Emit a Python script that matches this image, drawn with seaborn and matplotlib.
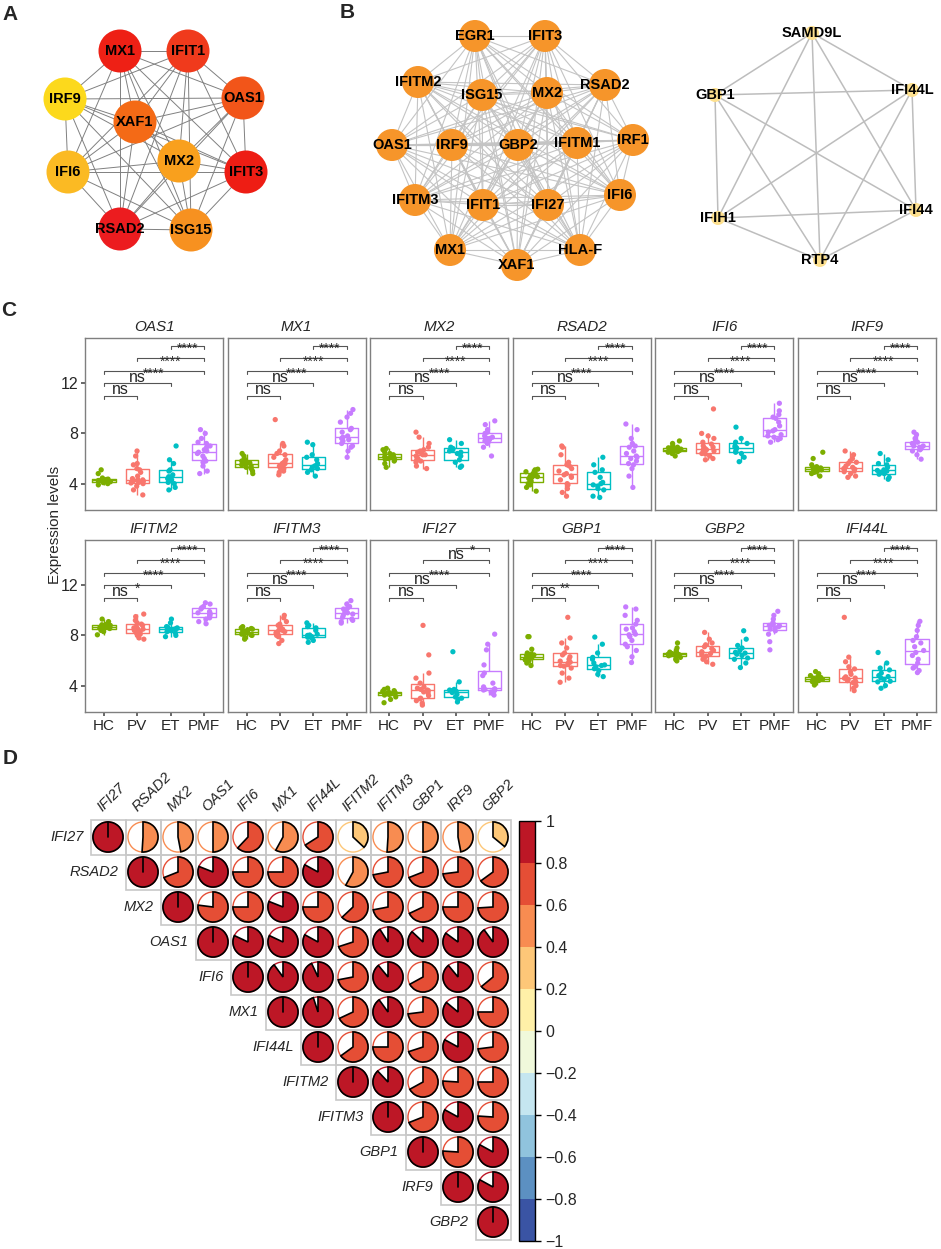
"""
Interferon-signature figure: PPI networks (A, B), expression boxplots (C)
and a pie-style correlation matrix (D).
"""

from itertools import combinations

import numpy as np
import pandas as pd
import matplotlib
matplotlib.use("Agg")
import matplotlib.pyplot as plt
import seaborn as sns
from matplotlib.patches import Circle, Wedge, Rectangle
from matplotlib.colors import ListedColormap, BoundaryNorm
from matplotlib.cm import ScalarMappable

sns.set_theme(style="white")
plt.rcParams["font.family"] = ["Liberation Sans", "DejaVu Sans"]

# ---------------------------------------------------------------------------
# Data
# ---------------------------------------------------------------------------
# Panel A: hub network (layout coordinates + node colours by degree rank)
NET_A_NODES = ["MX1", "IFIT1", "OAS1", "IRF9", "XAF1", "MX2", "IFIT3", "IFI6", "RSAD2", "ISG15"]
NET_A_X = [120, 188, 243, 65, 135, 179, 246, 68, 120, 191]
NET_A_Y = [51, 51, 98, 99, 122, 161, 172, 172, 229, 230]
NET_A_COLORS = ["#EE2015", "#F03A1C", "#F25519", "#FCD91C", "#F46A16",
                "#F9A01D", "#EE1D14", "#FBBA23", "#EC1C1F", "#F79120"]

# Panel B: two modules
NET_B1_NODES = ["EGR1", "IFIT3", "IFITM2", "ISG15", "MX2", "RSAD2", "OAS1", "IRF9", "GBP2",
                "IFITM1", "IRF1", "IFITM3", "IFIT1", "IFI27", "IFI6", "MX1", "XAF1", "HLA-F"]
NET_B1_X = [475, 545, 418, 482, 547, 605, 392, 452, 518, 577, 633, 415, 483, 548, 620, 450, 517, 580]
NET_B1_Y = [36, 36, 82, 95, 93, 85, 145, 145, 145, 143, 140, 200, 205, 205, 195, 250, 265, 250]

NET_B2_NODES = ["SAMD9L", "GBP1", "IFI44L", "IFIH1", "IFI44", "RTP4"]
NET_B2_X = [812, 715, 912, 718, 916, 820]
NET_B2_Y = [33, 95, 90, 218, 210, 260]

# Panel C: expression levels per gene and group
GROUPS = ["HC", "PV", "ET", "PMF"]

OAS1 = {
    "HC": [3.9, 4.0, 4.08, 4.12, 4.15, 4.2, 4.22, 4.25, 4.27, 4.3, 4.33, 4.36, 4.45, 4.8, 5.1],
    "PV": [3.1, 3.5, 3.8, 4.0, 4.05, 4.1, 4.2, 4.25, 4.3, 4.3, 4.4, 4.6, 4.9, 5.1, 5.2, 5.5, 5.6, 6.2, 6.6],
    "ET": [3.5, 3.7, 4.0, 4.1, 4.3, 4.4, 4.5, 4.55, 4.7, 5.0, 5.1, 5.6, 5.9, 7.0],
    "PMF": [4.8, 5.0, 5.4, 5.7, 5.8, 6.0, 6.2, 6.4, 6.5, 6.6, 6.7, 6.9, 7.0, 7.2, 7.3, 7.6, 8.0, 8.3],
}
MX1 = {
    "HC": [4.8, 5.0, 5.2, 5.3, 5.4, 5.5, 5.55, 5.6, 5.65, 5.7, 5.8, 5.9, 6.0, 6.2, 6.4],
    "PV": [4.7, 4.9, 5.0, 5.2, 5.25, 5.4, 5.5, 5.6, 5.6, 5.7, 5.9, 6.1, 6.3, 6.4, 6.6, 7.0, 7.2, 9.1],
    "ET": [4.6, 4.9, 5.1, 5.2, 5.3, 5.4, 5.45, 5.6, 5.9, 6.1, 6.3, 7.1, 7.3],
    "PMF": [6.1, 6.6, 6.9, 7.0, 7.2, 7.4, 7.5, 7.6, 7.7, 7.8, 8.1, 8.3, 8.4, 8.9, 9.3, 9.6, 9.9],
}
MX2 = {
    "HC": [5.3, 5.6, 5.8, 5.9, 5.95, 6.0, 6.1, 6.1, 6.15, 6.2, 6.3, 6.4, 6.5, 6.7, 6.8],
    "PV": [5.2, 5.4, 5.7, 5.8, 5.9, 6.0, 6.2, 6.3, 6.3, 6.4, 6.5, 6.6, 6.7, 6.9, 7.2, 7.7, 8.1],
    "ET": [5.3, 5.4, 5.7, 5.9, 6.2, 6.4, 6.5, 6.6, 6.7, 6.8, 6.9, 7.2, 7.5],
    "PMF": [6.2, 6.9, 7.2, 7.3, 7.4, 7.5, 7.6, 7.6, 7.7, 7.8, 8.0, 8.1, 8.3, 8.7, 9.0],
}
RSAD2 = {
    "HC": [3.4, 3.7, 3.9, 4.0, 4.2, 4.4, 4.5, 4.56, 4.6, 4.7, 4.8, 4.85, 4.95, 5.1, 5.15],
    "PV": [3.0, 3.3, 3.6, 3.9, 4.0, 4.3, 4.5, 4.6, 4.7, 4.8, 5.0, 5.2, 5.4, 5.5, 5.7, 6.3, 6.9, 7.0],
    "ET": [2.9, 3.0, 3.5, 3.6, 3.8, 3.9, 4.0, 4.1, 4.5, 4.9, 5.1, 5.5, 6.1],
    "PMF": [3.7, 4.6, 5.2, 5.5, 5.6, 5.8, 6.0, 6.1, 6.2, 6.4, 6.6, 6.9, 7.0, 7.2, 7.6, 8.3, 8.75],
}
IFI6 = {
    "HC": [6.2, 6.4, 6.5, 6.55, 6.6, 6.65, 6.7, 6.7, 6.75, 6.8, 6.85, 6.9, 7.0, 7.2, 7.4],
    "PV": [5.9, 6.0, 6.2, 6.35, 6.4, 6.5, 6.6, 6.7, 6.7, 6.8, 6.9, 7.0, 7.15, 7.3, 7.6, 7.8, 8.0, 9.95],
    "ET": [5.75, 6.1, 6.4, 6.5, 6.6, 6.8, 6.85, 6.9, 7.0, 7.2, 7.3, 7.6, 8.5],
    "PMF": [7.3, 7.5, 7.6, 7.7, 7.8, 7.9, 8.1, 8.2, 8.3, 8.6, 8.9, 9.2, 9.3, 9.5, 9.8, 10.4],
}
IRF9 = {
    "HC": [4.6, 4.8, 4.9, 4.95, 5.0, 5.1, 5.12, 5.15, 5.2, 5.25, 5.3, 5.35, 5.5, 6.0, 6.5],
    "PV": [4.5, 4.6, 4.8, 4.95, 5.0, 5.1, 5.15, 5.2, 5.3, 5.4, 5.6, 5.7, 5.8, 6.0, 6.3, 6.6],
    "ET": [4.35, 4.5, 4.75, 4.8, 4.9, 5.0, 5.05, 5.1, 5.3, 5.5, 5.6, 5.9, 6.4],
    "PMF": [5.95, 6.3, 6.6, 6.7, 6.8, 6.9, 7.0, 7.0, 7.1, 7.2, 7.3, 7.4, 7.6, 7.9, 8.1],
}
IFITM2 = {
    "HC": [8.05, 8.3, 8.4, 8.45, 8.55, 8.6, 8.65, 8.67, 8.7, 8.75, 8.8, 8.85, 8.9, 9.1, 9.3],
    "PV": [7.7, 7.8, 8.0, 8.1, 8.2, 8.3, 8.4, 8.5, 8.5, 8.6, 8.7, 8.8, 8.9, 9.0, 9.2, 9.5, 9.7],
    "ET": [7.9, 8.0, 8.2, 8.3, 8.4, 8.45, 8.5, 8.55, 8.6, 8.65, 8.7, 9.0, 9.3],
    "PMF": [8.93, 9.1, 9.3, 9.4, 9.5, 9.6, 9.7, 9.75, 9.8, 9.9, 10.1, 10.2, 10.3, 10.5, 10.6],
}
IFITM3 = {
    "HC": [7.7, 7.85, 8.0, 8.05, 8.1, 8.2, 8.25, 8.27, 8.3, 8.4, 8.45, 8.5, 8.55, 8.6, 8.7],
    "PV": [7.35, 7.6, 7.9, 8.0, 8.1, 8.2, 8.3, 8.4, 8.4, 8.5, 8.6, 8.7, 8.8, 8.9, 9.1, 9.4, 9.6],
    "ET": [7.45, 7.6, 7.8, 7.85, 7.9, 8.0, 8.03, 8.1, 8.4, 8.6, 8.7, 8.8, 9.0],
    "PMF": [8.98, 9.1, 9.2, 9.3, 9.45, 9.6, 9.7, 9.8, 9.85, 9.95, 10.1, 10.2, 10.3, 10.5, 10.77],
}
IFI27 = {
    "HC": [2.64, 2.9, 3.1, 3.25, 3.3, 3.35, 3.38, 3.4, 3.42, 3.45, 3.5, 3.55, 3.6, 3.7, 3.8],
    "PV": [2.45, 2.6, 2.8, 2.95, 3.0, 3.2, 3.4, 3.5, 3.6, 3.65, 3.7, 3.8, 3.9, 4.2, 4.6, 5.0, 6.45, 8.8],
    "ET": [2.7, 2.9, 3.0, 3.1, 3.3, 3.45, 3.52, 3.55, 3.6, 3.65, 3.7, 4.3, 6.7],
    "PMF": [3.25, 3.4, 3.5, 3.6, 3.65, 3.7, 3.7, 3.75, 3.9, 4.2, 4.8, 5.0, 5.65, 6.85, 7.3, 8.1],
}
GBP1 = {
    "HC": [5.6, 5.8, 5.95, 6.05, 6.1, 6.2, 6.25, 6.27, 6.3, 6.4, 6.45, 6.5, 6.6, 6.9, 7.9, 7.9],
    "PV": [4.27, 4.6, 5.0, 5.4, 5.55, 5.6, 5.7, 5.8, 5.87, 5.95, 6.1, 6.3, 6.45, 6.6, 7.0, 7.4, 7.8, 9.44],
    "ET": [4.72, 4.9, 5.2, 5.35, 5.5, 5.6, 5.65, 5.8, 6.1, 6.25, 6.6, 7.3, 7.87],
    "PMF": [5.84, 6.3, 6.8, 7.1, 7.3, 7.6, 7.9, 8.05, 8.1, 8.3, 8.5, 8.6, 8.9, 9.2, 9.6, 10.1, 10.27],
}
GBP2 = {
    "HC": [5.97, 6.1, 6.25, 6.32, 6.38, 6.42, 6.46, 6.48, 6.5, 6.55, 6.6, 6.67, 6.75, 7.0, 7.4],
    "PV": [5.7, 5.9, 6.1, 6.25, 6.35, 6.45, 6.55, 6.64, 6.7, 6.8, 6.95, 7.1, 7.25, 7.4, 7.7, 8.24],
    "ET": [5.44, 5.8, 6.1, 6.2, 6.4, 6.5, 6.59, 6.65, 6.8, 7.0, 7.2, 7.7, 8.37],
    "PMF": [6.85, 7.5, 8.1, 8.37, 8.5, 8.6, 8.7, 8.77, 8.8, 8.85, 8.9, 9.0, 9.3, 9.6, 9.92],
}
IFI44L = {
    "HC": [4.05, 4.2, 4.3, 4.32, 4.4, 4.45, 4.5, 4.53, 4.55, 4.6, 4.65, 4.72, 4.8, 4.95, 5.12],
    "PV": [3.6, 3.8, 4.0, 4.24, 4.3, 4.4, 4.5, 4.59, 4.6, 4.7, 4.9, 5.1, 5.33, 5.5, 5.9, 6.27, 9.44],
    "ET": [3.79, 4.0, 4.3, 4.35, 4.5, 4.6, 4.72, 4.8, 5.0, 5.25, 5.4, 5.8, 6.64],
    "PMF": [5.04, 5.2, 5.4, 5.5, 5.8, 6.1, 6.4, 6.64, 6.8, 7.1, 7.4, 7.6, 7.9, 8.4, 8.8, 9.12],
}

GENES_C = ["OAS1", "MX1", "MX2", "RSAD2", "IFI6", "IRF9",
           "IFITM2", "IFITM3", "IFI27", "GBP1", "GBP2", "IFI44L"]
EXPR = [OAS1, MX1, MX2, RSAD2, IFI6, IRF9, IFITM2, IFITM3, IFI27, GBP1, GBP2, IFI44L]

# significance for HC-PV, HC-ET, HC-PMF, PV-PMF, ET-PMF
PAIRS = [(0, 1), (0, 2), (0, 3), (1, 3), (2, 3)]
SIG = {
    "OAS1": ["ns", "ns", "****", "****", "****"],
    "MX1": ["ns", "ns", "****", "****", "****"],
    "MX2": ["ns", "ns", "****", "****", "****"],
    "RSAD2": ["ns", "ns", "****", "****", "****"],
    "IFI6": ["ns", "ns", "****", "****", "****"],
    "IRF9": ["ns", "ns", "****", "****", "****"],
    "IFITM2": ["ns", "*", "****", "****", "****"],
    "IFITM3": ["ns", "ns", "****", "****", "****"],
    "IFI27": ["ns", "ns", "****", "ns", "*"],
    "GBP1": ["ns", "**", "****", "****", "****"],
    "GBP2": ["ns", "ns", "****", "****", "****"],
    "IFI44L": ["ns", "ns", "****", "****", "****"],
}
BRACKET_Y = [11, 12, 13, 14, 15]

# Panel D: Spearman correlations (upper triangle, row by row)
GENES_D = ["IFI27", "RSAD2", "MX2", "OAS1", "IFI6", "MX1",
           "IFI44L", "IFITM2", "IFITM3", "GBP1", "IRF9", "GBP2"]
CORR_UPPER = [
    [0.51, 0.47, 0.50, 0.62, 0.58, 0.66, 0.37, 0.51, 0.50, 0.47, 0.36],
    [0.69, 0.81, 0.75, 0.75, 0.83, 0.58, 0.72, 0.69, 0.73, 0.65],
    [0.77, 0.75, 0.81, 0.75, 0.63, 0.72, 0.68, 0.75, 0.74],
    [0.82, 0.82, 0.83, 0.70, 0.91, 0.87, 0.85, 0.90],
    [0.90, 0.93, 0.72, 0.89, 0.67, 0.89, 0.64],
    [0.95, 0.68, 0.90, 0.73, 0.86, 0.75],
    [0.65, 0.75, 0.70, 0.83, 0.73],
    [0.88, 0.67, 0.76, 0.75],
    [0.69, 0.83, 0.76],
    [0.76, 0.83],
    [0.83],
]

PALETTE = {"HC": "#7CAE00", "PV": "#F8766D", "ET": "#00BFC4", "PMF": "#C77CFF"}

# ---------------------------------------------------------------------------
# Figure
# ---------------------------------------------------------------------------
W, H = 941, 1249
fig = plt.figure(figsize=(W / 100, H / 100), dpi=100)
np.random.seed(7)


def px_axes(x0, y0, w, h):
    return fig.add_axes([x0 / W, 1 - (y0 + h) / H, w / W, h / H])


def draw_network(ax, names, xs, ys, colors, radius, edge_color, edge_lw, fsize):
    for a, b in combinations(range(len(names)), 2):
        ax.plot([xs[a], xs[b]], [ys[a], ys[b]], color=edge_color, lw=edge_lw, zorder=1)
    for name, x, y, c in zip(names, xs, ys, colors):
        ax.add_patch(Circle((x, y), radius, facecolor=c, edgecolor="none", zorder=2))
        ax.text(x, y, name, ha="center", va="center", fontsize=fsize,
                fontweight="bold", color="black", zorder=3)


# ---- Panels A and B --------------------------------------------------------
ax_net = px_axes(0, 0, W, 300)
ax_net.set_xlim(0, W)
ax_net.set_ylim(300, 0)
ax_net.axis("off")

draw_network(ax_net, NET_A_NODES, NET_A_X, NET_A_Y, NET_A_COLORS,
             21.5, "#808080", 0.7, 10.5)
draw_network(ax_net, NET_B1_NODES, NET_B1_X, NET_B1_Y, ["#F6952A"] * len(NET_B1_NODES),
             16, "#C4C4C4", 0.8, 10.5)
draw_network(ax_net, NET_B2_NODES, NET_B2_X, NET_B2_Y, ["#FDE08F"] * len(NET_B2_NODES),
             7, "#BDBDBD", 1.1, 10.5)

# ---- Panel C ---------------------------------------------------------------
for k, (gene, expr) in enumerate(zip(GENES_C, EXPR)):
    r, c = divmod(k, 6)
    ax = px_axes(85 + 142.6 * c, [338, 540][r], 138, 172)
    df = pd.DataFrame([(g, v) for g in GROUPS for v in expr[g]], columns=["group", "value"])

    sns.boxplot(data=df, x="group", y="value", hue="group", order=GROUPS,
                hue_order=GROUPS, palette=PALETTE, fill=False, width=0.7,
                linewidth=1, showfliers=False, showcaps=False, legend=False, ax=ax)
    sns.stripplot(data=df, x="group", y="value", hue="group", order=GROUPS,
                  hue_order=GROUPS, palette=PALETTE, jitter=0.2, size=3.8,
                  legend=False, ax=ax, zorder=3)

    for (a, b), yb, lab in zip(PAIRS, BRACKET_Y, SIG[gene]):
        ax.plot([a, a, b, b], [yb - 0.25, yb, yb, yb - 0.25], color="#555555", lw=0.8)
        if lab == "ns":
            ax.text((a + b) / 2, yb + 0.12, lab, ha="center", va="baseline", fontsize=11.5)
        else:
            ax.text((a + b) / 2, yb - 0.28, lab, ha="center", va="center", fontsize=10)

    ax.set_xlim(-0.57, 3.57)
    ax.set_ylim(1.9, 15.6)
    ax.set_yticks([4, 8, 12])
    ax.set_xlabel("")
    ax.set_ylabel("")
    ax.set_title(gene, style="italic", fontsize=11, pad=5)
    for s in ax.spines.values():
        s.set_color("#7f7f7f")
        s.set_linewidth(1)
    ax.tick_params(axis="both", length=3, color="#555555", labelsize=11.5, pad=2,
                   left=(c == 0), bottom=(r == 1))
    ax.tick_params(axis="x", labelsize=11)
    if c > 0:
        ax.set_yticklabels([])
    if r == 0:
        ax.set_xticklabels([])

fig.text(55 / W, 1 - 525 / H, "Expression levels", rotation=90,
         ha="center", va="center", fontsize=11)

# ---- Panel D ---------------------------------------------------------------
n = len(GENES_D)
corr = np.eye(n)
for i, row in enumerate(CORR_UPPER):
    for off, v in enumerate(row):
        corr[i, i + 1 + off] = v
        corr[i + 1 + off, i] = v

bounds = np.linspace(-1, 1, 11)
cmap10 = ListedColormap(plt.cm.RdYlBu_r((bounds[:-1] + bounds[1:] + 2) / 4))
norm10 = BoundaryNorm(bounds, cmap10.N)

ax_d = px_axes(90.5, 819.5, 420, 420)
lower = np.tril(np.ones((n, n), dtype=bool), k=-1)
sns.heatmap(np.zeros((n, n)), mask=lower, cmap=ListedColormap(["white"]), cbar=False,
            linewidths=0, square=True, xticklabels=False, yticklabels=False, ax=ax_d)

for i in range(n):
    for j in range(i, n):
        v = corr[i, j]
        col = cmap10(norm10(v))
        cx, cy = j + 0.5, i + 0.5
        ax_d.add_patch(Rectangle((j, i), 1, 1, fill=False, edgecolor="#C8C8C8",
                                 lw=1.2, clip_on=False))
        ax_d.add_patch(Circle((cx, cy), 0.43, facecolor="white", edgecolor=col, lw=1.0))
        # y axis is inverted: data angles run clockwise on screen from 12 o'clock
        ax_d.add_patch(Wedge((cx, cy), 0.43, -90, -90 + 360 * abs(v),
                             facecolor=col, edgecolor="black", lw=1.2))
        if i == j:
            ax_d.plot([cx, cx], [cy, cy - 0.43], color="black", lw=1.2)
    ax_d.text(i - 0.2, i + 0.5, GENES_D[i], ha="right", va="center",
              style="italic", fontsize=10.5)
    ax_d.text(i + 0.4, -0.15, GENES_D[i], ha="left", va="bottom", rotation=45,
              rotation_mode="anchor", style="italic", fontsize=10.5)

cax = px_axes(519, 821, 16, 420)
cb = fig.colorbar(ScalarMappable(norm=norm10, cmap=cmap10), cax=cax, ticks=bounds)
cb.ax.set_yticklabels(["1" if t == 1 else "0" if abs(t) < 1e-9 else "\u22121" if t == -1
                       else f"{t:.1f}".replace("-", "\u2212") for t in bounds])
cb.outline.set_edgecolor("black")
cb.outline.set_linewidth(1)
cb.ax.tick_params(length=4, width=1, labelsize=11.5, color="black", direction="out")

# ---- Panel letters ---------------------------------------------------------
for letter, (x, y) in {"A": (10, 15), "B": (347, 12), "C": (9, 310), "D": (10, 758)}.items():
    fig.text(x / W, 1 - y / H, letter, fontsize=15, fontweight="bold", ha="center", va="center")

fig.savefig("out.png", dpi=100, facecolor="white")
